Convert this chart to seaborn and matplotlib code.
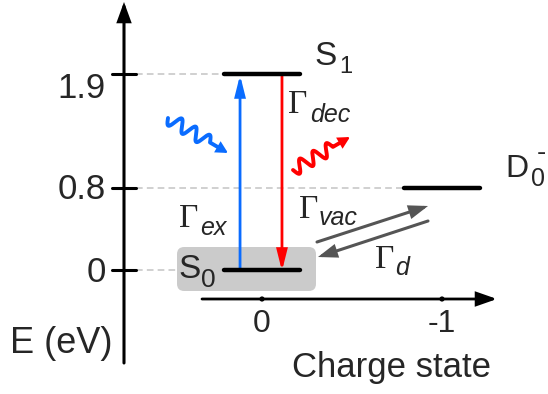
import numpy as np
import pandas as pd
import matplotlib
matplotlib.use("Agg")
import matplotlib.pyplot as plt
import seaborn as sns
from matplotlib.patches import FancyBboxPatch, FancyArrowPatch

# energy levels of the defect
level_names = ["S0", "S1", "D0-"]
level_charge = [0, 0, -1]
level_energy = [0.0, 1.9, 0.8]

energy_ticks = [0, 0.8, 1.9]
energy_labels = ["0", "0.8", "1.9"]
charge_ticks = [0, -1]
charge_labels = ["0", "-1"]

# picture geometry (pixels)
W, H = 548, 394
X0, SX = 262, 180   # pixel of charge 0, pixels per charge unit
Y0, SY = 270, 103   # pixel of 0 eV, pixels per eV


def q(px):
    return -(px - X0) / SX


def e(py):
    return (Y0 - py) / SY


def arrow(ax, p0, p1, color, lw, hl, hw, z=3):
    a = FancyArrowPatch(p0, p1, arrowstyle=f"-|>,head_length={hl},head_width={hw}",
                        mutation_scale=1, shrinkA=0, shrinkB=0, lw=lw,
                        color=color, zorder=z, joinstyle="miter")
    ax.add_patch(a)


def wavy(ax, start, tip, color, n=3, amp=6.5, frac=0.7):
    # photon squiggle, built in pixel space
    s = np.array(start, float)
    t = np.array(tip, float)
    d = t - s
    L = np.hypot(*d)
    u = d / L
    nrm = np.array([-u[1], u[0]])
    tt = np.linspace(0, 1, 200)
    wav = amp * np.sin(2 * np.pi * n * tt)
    pts = s + np.outer(tt * frac * L, u) + np.outer(wav, nrm)
    end = s + u * (L - 8)
    pts = np.vstack([pts, end])
    ax.plot(q(pts[:, 0]), e(pts[:, 1]), color=color, lw=2.8, solid_capstyle="round",
            solid_joinstyle="round", zorder=3)
    arrow(ax, (q(end[0] - u[0] * 2), e(end[1] - u[1] * 2)), (q(t[0]), e(t[1])), color, 1.5, 6.5, 3.4)


def label(ax, px, py, s, size, **kw):
    ax.text(q(px), e(py), s, fontsize=size, ha="left", va="baseline", **kw)


sns.set_theme(style="white")
plt.rcParams["font.family"] = ["Liberation Sans", "DejaVu Sans"]

fig = plt.figure(figsize=(W / 100, H / 100), dpi=100)
ax = fig.add_axes([0, 0, 1, 1])

HW = 38 / SX
rows = []
for n, c, en in zip(level_names, level_charge, level_energy):
    rows.append((n, c + HW, en))
    rows.append((n, c - HW, en))
levels = pd.DataFrame(rows, columns=["level", "charge", "energy"])

sns.lineplot(data=levels, x="charge", y="energy", units="level", estimator=None,
             sort=False, color="black", lw=3.2, legend=False, ax=ax, zorder=4)

# shaded ground state box
box = FancyBboxPatch((q(316), e(291)), q(177) - q(316), e(247) - e(291),
                     boxstyle="round,pad=0,rounding_size=0.04", mutation_aspect=SX / SY,
                     fc="#cbcbcb", ec="none", zorder=1)
ax.add_patch(box)

# energy axis
axx = q(124)
arrow(ax, (axx, e(363)), (axx, e(2)), "black", 2.2, 11, 4.0)
nudge = {"0": 2, "0.8": 2, "1.9": 14}
for t, lab in zip(energy_ticks, energy_labels):
    ax.plot([q(112), q(136)], [t, t], color="black", lw=2.2, zorder=3)
    lv = [c for c, en in zip(level_charge, level_energy) if en == t][0]
    ax.plot([q(136), lv + HW], [t, t], color="#c8c8c8", lw=1.2, dashes=(4, 2.5), zorder=0)
    ax.text(q(106), t - nudge[lab] / SY, lab, fontsize=25, ha="right", va="center")
ax.text(q(10), e(353), "E (eV)", fontsize=26, ha="left", va="baseline")

# charge axis
ay = e(299)
arrow(ax, (q(202), ay), (q(497), ay), "black", 2.0, 12, 4.2)
sns.scatterplot(x=charge_ticks, y=[ay] * len(charge_ticks), s=14, color="black",
                edgecolor="none", ax=ax, zorder=4)
for c, lab in zip(charge_ticks, charge_labels):
    ax.text(c, e(324), lab, fontsize=23, ha="center", va="center")
ax.text(q(392), e(377), "Charge state", fontsize=25, ha="center", va="baseline")

# excitation / decay between S0 and S1
s0, s1 = level_energy[0], level_energy[1]
arrow(ax, (0.122, s0), (0.122, e(75)), "#0a6cff", 2.0, 12, 3.0)
arrow(ax, (-0.111, s1), (-0.111, e(271)), "#ff0000", 2.0, 12, 3.0)

# vacancy trapping / detrapping
arrow(ax, (q(317), e(242)), (q(428), e(206)), "#555555", 2.2, 10, 3.6)
arrow(ax, (q(428), e(221)), (q(318), e(257)), "#555555", 2.2, 10, 3.6)

# photons
wavy(ax, (168, 118), (228, 153), "#0a6cff")
wavy(ax, (293, 170), (350, 137), "#ff0000")

# labels
G = dict(family="Liberation Serif")
I = dict(style="italic")
label(ax, 288, 113, "Γ", 24, **G)
label(ax, 310, 122, "dec", 18, **I)
label(ax, 179, 227, "Γ", 24, **G)
label(ax, 200, 235, "ex", 18, **I)
label(ax, 299, 218, "Γ", 24, **G)
label(ax, 319, 225, "vac", 18, **I)
label(ax, 375, 268, "Γ", 24, **G)
label(ax, 395, 275, "d", 18, **I)

label(ax, 314, 65, "S", 24)
label(ax, 339, 73, "1", 17)
label(ax, 178, 278, "S", 24)
label(ax, 201, 287, "0", 19)
label(ax, 505, 177, "D", 23)
label(ax, 531, 186, "0", 18)
label(ax, 537, 160, "-", 20)

ax.set_xlim(q(0), q(W))
ax.set_ylim(e(H), e(0))
ax.axis("off")

fig.savefig("out.png", dpi=100)
